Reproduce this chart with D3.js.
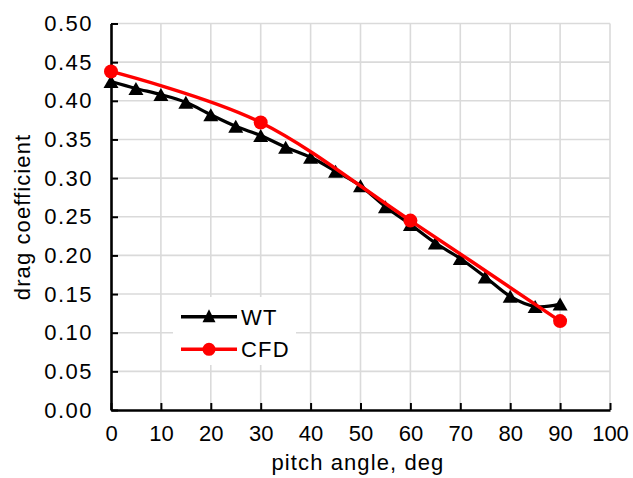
<!DOCTYPE html>
<html>
<head>
<meta charset="utf-8">
<script src="https://cdn.jsdelivr.net/npm/d3@7"></script>
<style>
  html, body { margin: 0; padding: 0; background: #fff; }
  svg { display: block; }
  text { font-family: "Liberation Sans", Arial, Helvetica, sans-serif; fill: #000; }
</style>
</head>
<body>
<svg id="chart" width="633" height="478"></svg>
<script>
// ---- data ----
const wtAngles = [0, 5, 10, 15, 20, 25, 30, 35, 40, 45, 50, 55, 60, 65, 70, 75, 80, 85, 90];
const wtValues = [0.425, 0.416, 0.408, 0.398, 0.382, 0.367, 0.355, 0.340, 0.327, 0.309, 0.290, 0.263, 0.240, 0.216, 0.196, 0.172, 0.147, 0.134, 0.137];
const cfdAngles = [0, 30, 60, 90];
const cfdValues = [0.438, 0.372, 0.245, 0.115];
const xTicks = [0, 10, 20, 30, 40, 50, 60, 70, 80, 90, 100];
const yTicks = [0, 0.05, 0.10, 0.15, 0.20, 0.25, 0.30, 0.35, 0.40, 0.45, 0.50];
const seriesNames = ["WT", "CFD"];
const xTitle = "pitch angle, deg";
const yTitle = "drag coefficient";

// ---- layout ----
const W = 633, H = 478;
const m = { left: 111, right: 23, top: 23.5, bottom: 68 };
const svg = d3.select("#chart");
svg.append("rect").attr("width", W).attr("height", H).attr("fill", "#fff");

const x = d3.scaleLinear().domain([0, 100]).range([m.left, W - m.right]);
const y = d3.scaleLinear().domain([0, 0.5]).range([H - m.bottom, m.top]);

// gridlines
const grid = svg.append("g");
grid.selectAll("line.gx").data(xTicks.slice(1)).join("line")
  .attr("x1", d => x(d)).attr("x2", d => x(d))
  .attr("y1", y(0)).attr("y2", y(0.5))
  .attr("stroke", "#dadada").attr("stroke-width", 1.6);
grid.selectAll("line.gy").data(yTicks.slice(1)).join("line")
  .attr("x1", x(0)).attr("x2", x(100))
  .attr("y1", d => y(d)).attr("y2", d => y(d))
  .attr("stroke", "#dadada").attr("stroke-width", 1.6);

// axes
const xAxis = d3.axisBottom(x).tickValues(xTicks).tickSizeInner(-7).tickSizeOuter(0).tickFormat(d3.format("d")).tickPadding(20);
const yAxis = d3.axisLeft(y).tickValues(yTicks).tickSizeInner(-7).tickSizeOuter(0).tickFormat(d3.format(".2f")).tickPadding(19);

const gx = svg.append("g").attr("transform", `translate(0,${y(0)})`).call(xAxis);
const gy = svg.append("g").attr("transform", `translate(${x(0)},0)`).call(yAxis);
[gx, gy].forEach(g => {
  g.select(".domain").attr("stroke", "#000").attr("stroke-width", 2.6);
  g.selectAll(".tick line").attr("stroke", "#000").attr("stroke-width", 2);
  g.selectAll(".tick text").attr("font-size", 22).attr("font-family", "Liberation Sans, Arial, sans-serif").attr("fill", "#000");
});
gx.selectAll(".tick text").attr("dy", "0.71em").attr("y", 15);
gy.selectAll(".tick text").attr("letter-spacing", 1.5).attr("x", -18);

// axis titles
svg.append("text").attr("x", 358).attr("y", 470).attr("text-anchor", "middle")
  .attr("font-size", 22).attr("letter-spacing", 1.1).text(xTitle);
svg.append("text").attr("transform", `translate(30,217) rotate(-90)`).attr("text-anchor", "middle")
  .attr("font-size", 22).attr("letter-spacing", 1.1).text(yTitle);

// lines
const wt = wtAngles.map((a, i) => [a, wtValues[i]]);
const cfd = cfdAngles.map((a, i) => [a, cfdValues[i]]);
const line = d3.line().x(d => x(d[0])).y(d => y(d[1])).curve(d3.curveCardinal.tension(0));

const triPath = (cx, cy, w, h) => `M${cx - w / 2},${cy + h / 2}L${cx},${cy - h / 2}L${cx + w / 2},${cy + h / 2}Z`;

svg.append("path").datum(wt).attr("d", line).attr("fill", "none").attr("stroke", "#000").attr("stroke-width", 3.2);
svg.append("g").selectAll("path").data(wt).join("path")
  .attr("d", d => triPath(x(d[0]), y(d[1]), 15, 13)).attr("fill", "#000");

svg.append("path").datum(cfd).attr("d", line).attr("fill", "none").attr("stroke", "#ff0000").attr("stroke-width", 3.5);
svg.append("g").selectAll("circle").data(cfd).join("circle")
  .attr("cx", d => x(d[0])).attr("cy", d => y(d[1])).attr("r", 7).attr("fill", "#ff0000");

// legend
const lg = svg.append("g");
lg.append("rect").attr("x", 173).attr("y", 297).attr("width", 123).attr("height", 68).attr("fill", "#fff");
const ly = [316.7, 349.3];
const lcol = ["#000", "#ff0000"];
ly.forEach((yy, i) => {
  lg.append("line").attr("x1", 181).attr("x2", 237).attr("y1", yy).attr("y2", yy)
    .attr("stroke", lcol[i]).attr("stroke-width", 3.4);
  if (i === 0) lg.append("path").attr("d", triPath(209, yy - 1, 13, 13)).attr("fill", "#000");
  else lg.append("circle").attr("cx", 209).attr("cy", yy).attr("r", 6.5).attr("fill", "#ff0000");
  lg.append("text").attr("x", 241).attr("y", yy).attr("dy", "0.36em").attr("font-size", 22)
    .attr("letter-spacing", 1.2).text(seriesNames[i]);
});
</script>
</body>
</html>
